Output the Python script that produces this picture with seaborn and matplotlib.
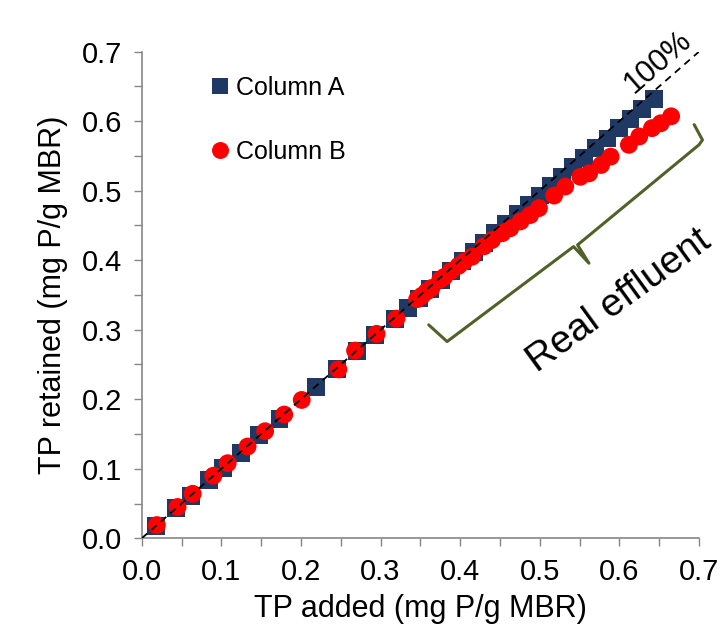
import matplotlib
matplotlib.use('Agg')
import numpy as np
import pandas as pd
import seaborn as sns
import matplotlib.pyplot as plt
from matplotlib.ticker import MultipleLocator, FormatStrFormatter

# ---- data ----
series_names = ['Column A', 'Column B']
a_x = [0.018, 0.043, 0.062, 0.085, 0.102, 0.125, 0.147, 0.173, 0.219, 0.245, 0.270, 0.293,
       0.318, 0.334, 0.348, 0.362, 0.376, 0.389, 0.403, 0.417, 0.430, 0.444, 0.458, 0.472,
       0.486, 0.500, 0.514, 0.528, 0.542, 0.556, 0.570, 0.585, 0.600, 0.614, 0.628, 0.643]
a_y = [0.018, 0.043, 0.061, 0.084, 0.101, 0.123, 0.148, 0.171, 0.218, 0.243, 0.270, 0.292,
       0.316, 0.331, 0.345, 0.359, 0.372, 0.385, 0.399, 0.412, 0.425, 0.439, 0.452, 0.466,
       0.480, 0.493, 0.507, 0.520, 0.534, 0.547, 0.561, 0.575, 0.590, 0.603, 0.617, 0.632]
b_x = [0.019, 0.045, 0.064, 0.090, 0.108, 0.133, 0.155, 0.179, 0.201, 0.247, 0.268, 0.295,
       0.320, 0.346, 0.352, 0.358, 0.364, 0.375, 0.380, 0.388, 0.398, 0.405, 0.415, 0.430,
       0.440, 0.453, 0.463, 0.476, 0.488, 0.499, 0.518, 0.532, 0.551, 0.562, 0.577, 0.589,
       0.612, 0.625, 0.641, 0.652, 0.665]
b_y = [0.019, 0.045, 0.064, 0.090, 0.108, 0.132, 0.154, 0.178, 0.199, 0.243, 0.270, 0.294,
       0.316, 0.344, 0.349, 0.355, 0.360, 0.372, 0.376, 0.384, 0.392, 0.398, 0.405, 0.420,
       0.429, 0.439, 0.446, 0.456, 0.465, 0.475, 0.493, 0.506, 0.520, 0.525, 0.537, 0.549,
       0.566, 0.578, 0.590, 0.597, 0.607]
ref_line = [0.0, 0.7]
tick_major = 0.1
tick_minor = 0.05
axis_limits = [0.0, 0.7]
x_label = 'TP added (mg P/g MBR)'
y_label = 'TP retained (mg P/g MBR)'
ref_text = '100%'
brace_text = 'Real effluent'
brace_x = [0.3605, 0.3836, 0.5425, 0.5618, 0.5475, 0.7000, 0.7044, 0.6940]
brace_y = [0.307, 0.283, 0.4196, 0.3957, 0.422, 0.566, 0.573, 0.595]

df = pd.concat([
    pd.DataFrame({'x': a_x, 'y': a_y, 'series': series_names[0]}),
    pd.DataFrame({'x': b_x, 'y': b_y, 'series': series_names[1]}),
], ignore_index=True)

sns.set_style('white')
plt.rcParams['font.family'] = ['Liberation Sans', 'DejaVu Sans']
plt.rcParams['text.color'] = 'black'
plt.rcParams['axes.labelcolor'] = 'black'
plt.rcParams['xtick.labelcolor'] = 'black'
plt.rcParams['ytick.labelcolor'] = 'black'

fig = plt.figure(figsize=(7.22, 6.38), dpi=100)
ax = fig.add_axes([0.1963, 0.1563, 0.7718, 0.7627])

sns.scatterplot(data=df, x='x', y='y', hue='series', style='series',
                markers={'Column A': 's', 'Column B': 'o'},
                palette={'Column A': '#1F3864', 'Column B': '#FF0000'},
                s=165, linewidth=0, ax=ax, zorder=2)

ax.plot(ref_line, ref_line, color='black', lw=1.3, linestyle=(0, (4, 3)), zorder=3)

ax.set_xlim(axis_limits)
ax.set_ylim(axis_limits)
ax.xaxis.set_major_locator(MultipleLocator(tick_major))
ax.yaxis.set_major_locator(MultipleLocator(tick_major))
ax.xaxis.set_minor_locator(MultipleLocator(tick_minor))
ax.yaxis.set_minor_locator(MultipleLocator(tick_minor))
ax.xaxis.set_major_formatter(FormatStrFormatter('%.1f'))
ax.yaxis.set_major_formatter(FormatStrFormatter('%.1f'))
ax.tick_params(which='both', bottom=True, left=True, direction='out', length=6,
               width=1, color='#868686', labelcolor='black')
ax.tick_params(which='major', labelsize=21, pad=8)

for s in ['top', 'right']:
    ax.spines[s].set_visible(False)
for s in ['left', 'bottom']:
    ax.spines[s].set_color('#868686')
    ax.spines[s].set_linewidth(1.2)

ax.set_xlabel(x_label, fontsize=22, labelpad=6, color='black')
ax.set_ylabel(y_label, fontsize=22, labelpad=10, color='black')

handles, labels = ax.get_legend_handles_labels()
keep = [(h, l) for h, l in zip(handles, labels) if l in series_names]
leg = ax.legend([k[0] for k in keep], [k[1] for k in keep], loc='upper left',
                bbox_to_anchor=(0.1236, 0.95), frameon=False, fontsize=18,
                labelspacing=1.6, handletextpad=0.25, handlelength=0.75,
                borderpad=0, borderaxespad=0, markerscale=0.95)
for t in leg.get_texts():
    t.set_color('black')

ax.text(0.648, 0.685, ref_text, rotation=41, fontsize=22, ha='center', va='center',
        rotation_mode='anchor', color='black')
ax.text(0.600, 0.342, brace_text, rotation=36, fontsize=28, ha='center', va='center',
        rotation_mode='anchor', color='black')
ax.plot(brace_x, brace_y, color='#4F6228', lw=2.2, clip_on=False,
        solid_joinstyle='round', solid_capstyle='round', zorder=1)

fig.savefig('out.png', dpi=100)
